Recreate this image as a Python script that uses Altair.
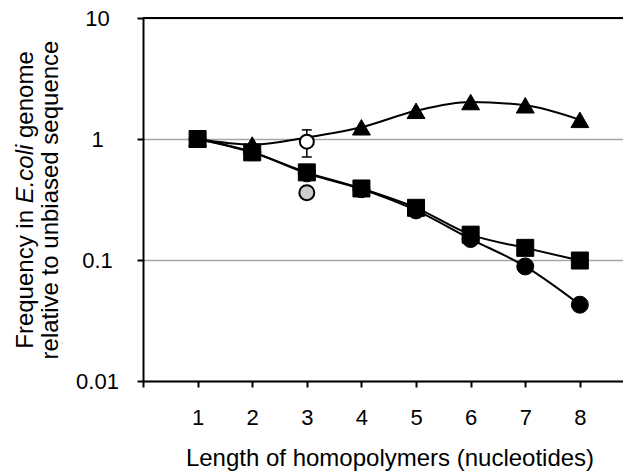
import altair as alt
import pandas as pd

# ---- data ----
lengths = [1, 2, 3, 4, 5, 6, 7, 8]
triangle_vals = [1.0, 0.90, 1.03, 1.25, 1.71, 2.02, 1.90, 1.44]
square_vals = [1.0, 0.775, 0.53, 0.39, 0.27, 0.162, 0.126, 0.099]
circle_vals = [1.0, 0.78, 0.52, 0.385, 0.257, 0.149, 0.0885, 0.0427]

open_x = [3]
open_val = [0.95]
open_lo = [0.71]
open_hi = [1.19]

gray_x = [3]
gray_val = [0.36]

x_tick_values = [0, 1, 2, 3, 4, 5, 6, 7, 8]
y_tick_values = [0.01, 0.1, 1, 10]
top_value = [10]

x_title = "Length of homopolymers (nucleotides)"
y_title_parts = ["Frequency in", "E.coli", "genome"]
y_title_line2 = "relative to unbiased sequence"

FONT = "Liberation Sans"

# ---- tables ----
rows = []
for name, vals in [("circle", circle_vals), ("triangle", triangle_vals), ("square", square_vals)]:
    for x, v in zip(lengths, vals):
        rows.append({"length": x, "value": v, "series": name})
df = pd.DataFrame(rows)

open_df = pd.DataFrame({"length": open_x, "value": open_val, "lo": open_lo, "hi": open_hi})
cap_df = pd.DataFrame({"length": open_x * 2, "value": open_lo + open_hi})
gray_df = pd.DataFrame({"length": gray_x, "value": gray_val})
top_df = pd.DataFrame({"value": top_value})

x_scale = alt.Scale(domain=[0, 8.79], nice=False, zero=False)
y_scale = alt.Scale(type="log", domain=[0.01, 10], nice=False)

x_axis = alt.Axis(
    values=x_tick_values,
    labelExpr="datum.value == 0 ? '' : datum.label",
    grid=False,
    domainColor="black", domainWidth=2,
    tickColor="black", tickWidth=2, tickSize=6,
    labelFont=FONT, labelFontSize=22, labelColor="black", labelPadding=20,
    title=x_title, titleFont=FONT, titleFontSize=24, titleFontWeight="normal",
    titleColor="black", titleX=246.5, titleY=65, titleAlign="center",
    titleBaseline="top",
)
y_axis = alt.Axis(
    values=y_tick_values,
    format="~g",
    grid=True, gridColor="#a6a6a6", gridWidth=1.5,
    domainColor="black", domainWidth=2,
    tickColor="black", tickWidth=2, tickSize=6,
    labelFont=FONT, labelFontSize=22, labelColor="black",
    labelAlign="center", labelBaseline="middle", labelPadding=40,
    title=None,
)

X = alt.X("length:Q", scale=x_scale, axis=x_axis)
Y = alt.Y("value:Q", scale=y_scale, axis=y_axis)

base = alt.Chart(df)

lines = base.mark_line(color="black", strokeWidth=2, interpolate="monotone").encode(
    x=X, y=Y, detail="series:N"
)

circles = base.transform_filter("datum.series == 'circle'").mark_point(
    shape="circle", filled=True, fill="black", stroke="black", strokeWidth=1, size=289, opacity=1
).encode(x=X, y=Y)

triangles = base.transform_filter("datum.series == 'triangle' && datum.length != 3").mark_point(
    shape="triangle-up", filled=True, fill="black", stroke="black", strokeWidth=1, size=320, opacity=1
).encode(x=X, y=Y)

squares = base.transform_filter("datum.series == 'square'").mark_point(
    shape="square", filled=True, fill="black", stroke="black", strokeWidth=1, size=289, opacity=1
).encode(x=X, y=Y)

err_rule = alt.Chart(open_df).mark_rule(color="black", strokeWidth=1.5).encode(
    x=X, y=alt.Y("lo:Q", scale=y_scale, axis=y_axis), y2="hi:Q"
)
err_caps = alt.Chart(cap_df).mark_tick(
    orient="horizontal", color="black", thickness=1.5, size=10, opacity=1
).encode(x=X, y=Y)

open_pt = alt.Chart(open_df).mark_point(
    shape="circle", filled=True, fill="white", stroke="black", strokeWidth=2, size=196, opacity=1
).encode(x=X, y=Y)

gray_pt = alt.Chart(gray_df).mark_point(
    shape="circle", filled=True, fill="#cccccc", stroke="black", strokeWidth=2, size=225, opacity=1
).encode(x=X, y=Y)

top_rule = alt.Chart(top_df).mark_rule(color="black", strokeWidth=2).encode(
    y=alt.Y("value:Q", scale=y_scale, axis=y_axis)
)

# y-axis title (two lines, with italic species name)
em = 24
w_seg1 = 6.058 * em
w_seg2 = 2.445 * em
total1 = 12.394 * em
start1 = 182 + total1 / 2
title_df = pd.DataFrame({
    "text": y_title_parts,
    "offset": [0, w_seg1, w_seg1 + w_seg2 + 0.278 * em],
    "style": ["normal", "italic", "normal"],
})
t_norm = alt.Chart(pd.DataFrame({"text": [y_title_parts[0]]})).mark_text(
    angle=270, align="left", baseline="alphabetic", font=FONT, fontSize=em, color="black"
).encode(text="text:N", x=alt.value(-110), y=alt.value(start1))
t_ital = alt.Chart(pd.DataFrame({"text": [y_title_parts[1]]})).mark_text(
    angle=270, align="left", baseline="alphabetic", font=FONT, fontSize=em, fontStyle="italic", color="black"
).encode(text="text:N", x=alt.value(-110), y=alt.value(start1 - w_seg1))
t_rest = alt.Chart(pd.DataFrame({"text": [y_title_parts[2]]})).mark_text(
    angle=270, align="left", baseline="alphabetic", font=FONT, fontSize=em, color="black"
).encode(text="text:N", x=alt.value(-110), y=alt.value(start1 - w_seg1 - w_seg2 - 0.278 * em))
t_line2 = alt.Chart(pd.DataFrame({"text": [y_title_line2]})).mark_text(
    angle=270, align="center", baseline="alphabetic", font=FONT, fontSize=em, color="black"
).encode(text="text:N", x=alt.value(-85), y=alt.value(182))

chart = alt.layer(
    lines, circles, triangles, squares, err_rule, err_caps, open_pt, gray_pt, top_rule,
    t_norm, t_ital, t_rest, t_line2,
).properties(
    width=480, height=363,
    padding={"left": 135, "top": 10, "right": 0, "bottom": 91},
    autosize=alt.AutoSizeParams(type="none"),
    background="white",
).configure_view(stroke=None)

chart.save("out.html", embed_options={"renderer": "svg", "actions": False})
